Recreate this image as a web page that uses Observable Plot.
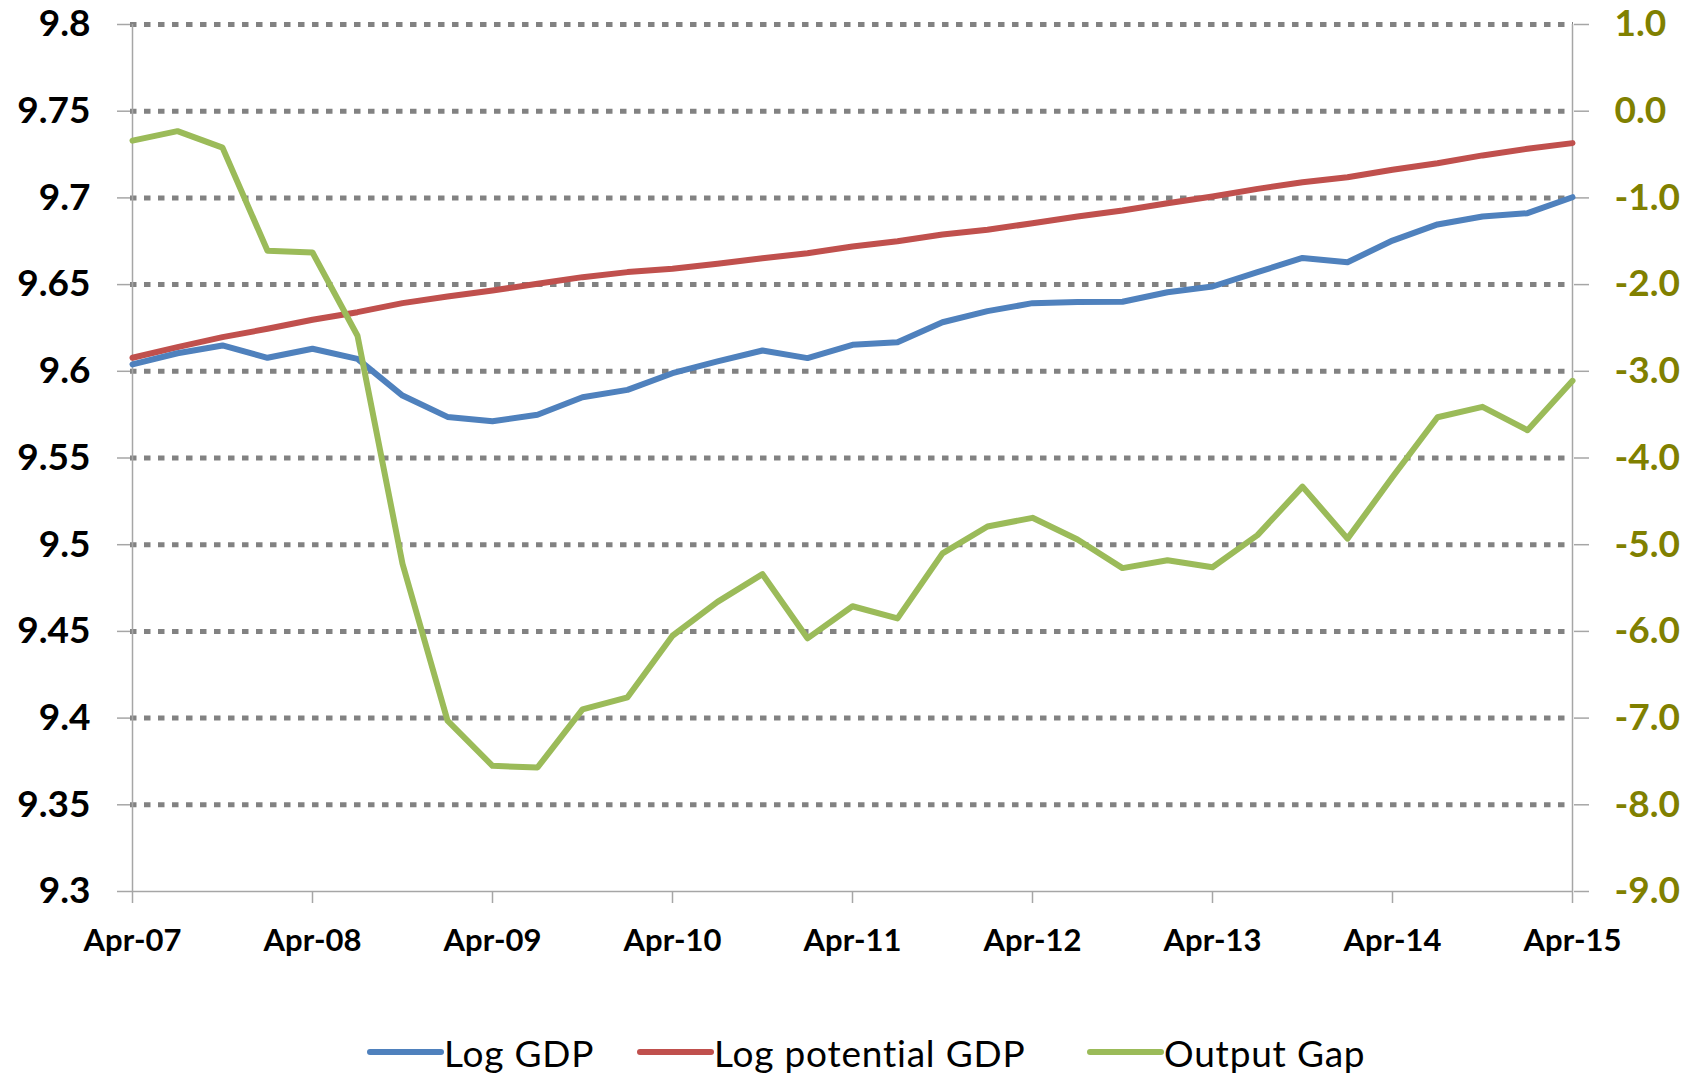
<!DOCTYPE html>
<html>
<head>
<meta charset="utf-8">
<script src="https://cdn.jsdelivr.net/npm/d3@7"></script>
<script src="https://cdn.jsdelivr.net/npm/@observablehq/plot@0.6"></script>
<style>
  html, body { margin: 0; padding: 0; background: #fff; }
  #wrap { position: relative; width: 1702px; height: 1076px; overflow: hidden; background: #fff; }
  #legend { position: absolute; left: 367px; top: 1024px; height: 56px; display: flex; align-items: center;
            font-family: Lato, sans-serif; font-size: 37px; color: #000; white-space: nowrap; letter-spacing: 0.8px; }
  .item { display: flex; align-items: center; }
  .sw { display: inline-block; width: 77px; height: 6px; border-radius: 3px; }
</style>
</head>
<body>
<div id="wrap"><div id="chart"></div><div id="legend"></div></div>
<script>
const quarters = ["Apr-07","Jul-07","Oct-07","Jan-08","Apr-08","Jul-08","Oct-08","Jan-09","Apr-09","Jul-09","Oct-09","Jan-10","Apr-10","Jul-10","Oct-10","Jan-11","Apr-11","Jul-11","Oct-11","Jan-12","Apr-12","Jul-12","Oct-12","Jan-13","Apr-13","Jul-13","Oct-13","Jan-14","Apr-14","Jul-14","Oct-14","Jan-15","Apr-15"];
const logGDP = [9.604,9.6104,9.6149,9.6078,9.613,9.6072,9.586,9.5737,9.5712,9.5749,9.585,9.5893,9.5989,9.6057,9.612,9.6076,9.6153,9.6168,9.6283,9.6347,9.6393,9.6399,9.6401,9.6456,9.6489,9.6572,9.6654,9.6629,9.6754,9.6847,9.6893,9.6912,9.7004];
const logPotentialGDP = [9.6078,9.6139,9.6197,9.6245,9.6297,9.6341,9.6393,9.6431,9.6466,9.6505,9.6543,9.6572,9.6591,9.662,9.6652,9.6681,9.672,9.675,9.6789,9.6816,9.6854,9.6893,9.6927,9.6969,9.7008,9.7052,9.709,9.7119,9.7162,9.72,9.7245,9.7283,9.7316];
const outputGap = [-0.34,-0.23,-0.42,-1.61,-1.63,-2.59,-5.22,-7.03,-7.55,-7.57,-6.9,-6.76,-6.05,-5.66,-5.34,-6.08,-5.71,-5.85,-5.10,-4.79,-4.69,-4.94,-5.27,-5.18,-5.26,-4.89,-4.33,-4.93,-4.22,-3.53,-3.41,-3.68,-3.11];

const yearTicks = ["Apr-07","Apr-08","Apr-09","Apr-10","Apr-11","Apr-12","Apr-13","Apr-14","Apr-15"];
const leftTicks = [9.3,9.35,9.4,9.45,9.5,9.55,9.6,9.65,9.7,9.75,9.8];
const leftTickLabels = ["9.3","9.35","9.4","9.45","9.5","9.55","9.6","9.65","9.7","9.75","9.8"];
const rightTicks = [-9,-8,-7,-6,-5,-4,-3,-2,-1,0,1];
const rightTickLabels = ["-9.0","-8.0","-7.0","-6.0","-5.0","-4.0","-3.0","-2.0","-1.0","0.0","1.0"];
const leftDomain = [9.3, 9.8];
const rightDomain = [-9, 1];

const seriesNames = ["Log GDP","Log potential GDP","Output Gap"];
const seriesColors = ["#4F81BD","#C0504D","#9BBB59"];
const legendTextWidths = [154, 334, 216];

// secondary axis mapped onto the primary y scale
const gapToLeft = d3.scaleLinear().domain(rightDomain).range(leftDomain);
const rightTickPositions = rightTicks.map(gapToLeft);

const rows = quarters.map((q, i) => ({q, gdp: logGDP[i], pot: logPotentialGDP[i], gap: outputGap[i]}));

const axisGray = "#a6a6a6";

const chart = Plot.plot({
  width: 1702,
  height: 1000,
  marginLeft: 130,
  marginRight: 129,
  marginTop: 24,
  marginBottom: 109,
  style: {fontFamily: "Lato, sans-serif", background: "#fff", overflow: "visible"},
  x: {type: "point", domain: quarters, padding: 0, label: null},
  y: {domain: leftDomain, label: null},
  marks: [
    Plot.ruleY(leftTicks.slice(1), {stroke: "#828282", strokeWidth: 5, strokeDasharray: "6.5,7.5"}),
    Plot.ruleY([leftDomain[0]], {stroke: axisGray, strokeWidth: 1.5}),
    Plot.ruleX([quarters[0], quarters[quarters.length - 1]], {stroke: axisGray, strokeWidth: 1.5}),
    Plot.axisY(leftTicks, {anchor: "left", label: null, tickSize: 13, tickPadding: 27, stroke: axisGray, strokeWidth: 1.5, fill: "#000",
      fontSize: 37, fontWeight: "bold", tickFormat: d => leftTickLabels[leftTicks.indexOf(d)]}),
    Plot.axisY(rightTickPositions, {anchor: "right", label: null, tickSize: 15, tickPadding: 26, stroke: axisGray, strokeWidth: 1.5, fill: "#808000",
      fontSize: 37, fontWeight: "bold", tickFormat: (d) => {
        let best = 0;
        rightTickPositions.forEach((v, i) => { if (Math.abs(v - d) < Math.abs(rightTickPositions[best] - d)) best = i; });
        return rightTickLabels[best];
      }}),
    Plot.axisX(yearTicks, {anchor: "bottom", label: null, tickSize: 12, tickPadding: 25, stroke: axisGray, strokeWidth: 1.5, fill: "#000",
      fontSize: 31, fontWeight: "bold", tickFormat: d => d}),
    Plot.line(rows, {x: "q", y: "pot", stroke: seriesColors[1], strokeWidth: 6}),
    Plot.line(rows, {x: "q", y: "gdp", stroke: seriesColors[0], strokeWidth: 6}),
    Plot.line(rows, {x: "q", y: d => gapToLeft(d.gap), stroke: seriesColors[2], strokeWidth: 6})
  ]
});
document.getElementById("chart").appendChild(chart);

const legend = document.getElementById("legend");
seriesNames.forEach((name, i) => {
  const item = document.createElement("div");
  item.className = "item";
  item.style.marginRight = i < seriesNames.length - 1 ? "39px" : "0";
  const sw = document.createElement("span");
  sw.className = "sw";
  sw.style.background = seriesColors[i];
  const t = document.createElement("span");
  t.textContent = name;
  t.style.display = "inline-block";
  t.style.minWidth = legendTextWidths[i] + "px";
  item.appendChild(sw);
  item.appendChild(t);
  legend.appendChild(item);
});
</script>
</body>
</html>
